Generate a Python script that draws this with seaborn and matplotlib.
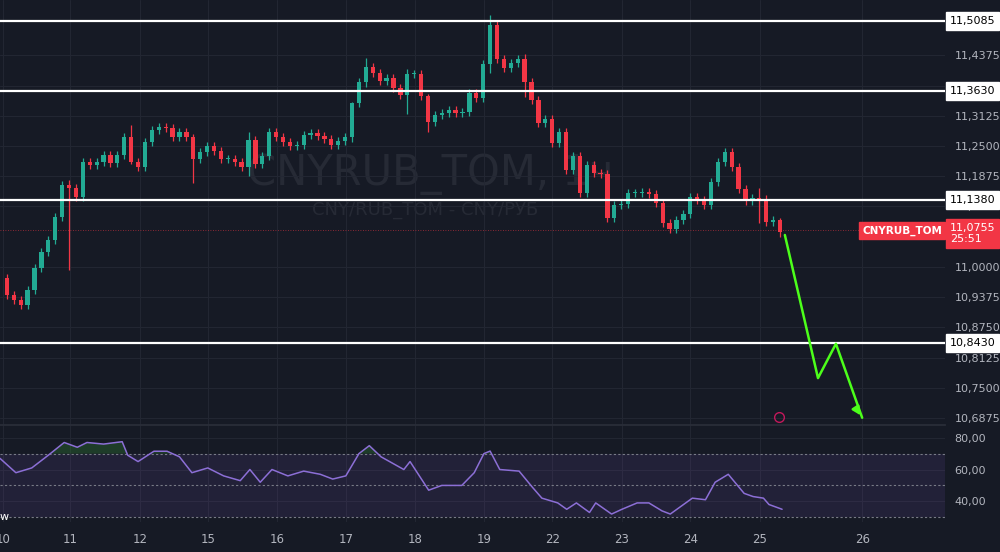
import numpy as np
import pandas as pd
import seaborn as sns
import matplotlib.pyplot as plt

# hourly closes, CNYRUB_TOM
first_open = 10.977
closes = [10.942, 10.932, 10.921, 10.952, 10.998, 11.031, 11.056, 11.103, 11.170, 11.163,
          11.145, 11.217, 11.211, 11.217, 11.232, 11.215, 11.232, 11.269, 11.217, 11.207,
          11.258, 11.283, 11.289, 11.287, 11.269, 11.279, 11.269, 11.223, 11.238, 11.250,
          11.240, 11.223, 11.223, 11.217, 11.207, 11.263, 11.213, 11.229, 11.279, 11.269,
          11.258, 11.250, 11.252, 11.273, 11.277, 11.271, 11.265, 11.252, 11.260, 11.269,
          11.339, 11.382, 11.413, 11.401, 11.385, 11.391, 11.370, 11.356, 11.399, 11.399,
          11.353, 11.300, 11.314, 11.318, 11.325, 11.318, 11.320, 11.360, 11.349, 11.420,
          11.500, 11.430, 11.411, 11.422, 11.430, 11.382, 11.345, 11.298, 11.306, 11.256,
          11.279, 11.200, 11.229, 11.153, 11.211, 11.194, 11.192, 11.101, 11.128, 11.130,
          11.153, 11.153, 11.155, 11.151, 11.132, 11.091, 11.079, 11.097, 11.110, 11.145,
          11.139, 11.128, 11.176, 11.217, 11.238, 11.207, 11.161, 11.136, 11.143, 11.140,
          11.093, 11.097, 11.072]
# bigger wicks where visible: index -> (upper, lower)
wick_override = {9: (0.01, 0.17), 18: (0.025, 0.005), 27: (0.005, 0.05), 35: (0.015, 0.02),
                 50: (0.003, 0.01), 52: (0.02, 0.01), 58: (0.01, 0.04), 61: (0.005, 0.02),
                 70: (0.02, 0.02), 75: (0.01, 0.03), 109: (0.02, 0.05), 112: (0.005, 0.01)}

levels = [11.5085, 11.3630, 11.1380, 10.8430]
last_price = 11.0755

rsi_idx = [-1, 1.3, 3.6, 6, 8.3, 10.2, 11.6, 14, 16.7, 17.5, 19, 21.3, 23.2, 25, 26.8, 29.1,
           31.4, 33.8, 35.2, 36.7, 38.4, 40.7, 43, 45.4, 47.2, 49.1, 51, 52.5, 54.2, 57.5, 58.4,
           61.1, 63, 65.9, 67.7, 69.1, 70, 71.4, 74.2, 76.1, 77.5, 79.8, 81.1, 82.5, 84.4, 85.3,
           87.6, 89.1, 91.3, 93, 94.9, 96.1, 99.3, 101.2, 102.6, 104.5, 106.8, 108.1, 109.6,
           110.4, 112.3]
rsi_val = [67, 58, 61, 69, 77, 74, 77, 76, 77.5, 69, 65, 71.5, 71.5, 68, 58, 61, 56, 53, 60,
           52, 60, 56, 59, 57, 54, 56, 70, 75, 68, 60, 65, 47, 50, 50, 58, 70, 71.6, 60, 59,
           49, 42, 39, 35, 39, 33, 39, 32, 35, 39, 39, 34, 32, 42, 41, 52, 57, 45, 43, 42, 38, 35]

arrow_x = [112.7, 117.5, 120.1, 123.9]
arrow_y = [11.066, 10.770, 10.841, 10.688]

day_pos = [-0.5, 9.1, 19.3, 29.1, 39.1, 49.1, 59.1, 69.1, 79.0, 89.1, 99.0, 109.1, 123.9]
day_lab = ["10", "11", "12", "15", "16", "17", "18", "19", "22", "23", "24", "25", "26"]
price_ticks = [11.4375, 11.3750, 11.3125, 11.2500, 11.1875, 11.1250, 11.0000,
               10.9375, 10.8750, 10.8125, 10.7500, 10.6875]

bg = "#161a25"
up_c, dn_c = "#22ab94", "#f23645"
sns.set_theme(style="dark", rc={"axes.facecolor": bg, "figure.facecolor": bg})
plt.rcParams["font.family"] = ["DejaVu Sans"]

opens = [first_open] + closes[:-1]
df = pd.DataFrame({"i": np.arange(len(closes)), "open": opens, "close": closes})
df["up"] = df["close"] >= df["open"]
df["top"] = df[["open", "close"]].max(axis=1)
df["bot"] = df[["open", "close"]].min(axis=1)
df["high"] = df["top"] + 0.008
df["low"] = df["bot"] - 0.008
for k, (u, l) in wick_override.items():
    df.loc[k, "high"] = df.loc[k, "top"] + u
    df.loc[k, "low"] = df.loc[k, "bot"] - l

fig = plt.figure(figsize=(10, 5.52), dpi=100)
ax = fig.add_axes([0, 127 / 552, 0.945, 425 / 552])
ax2 = fig.add_axes([0, 30 / 552, 0.945, 97 / 552], sharex=ax)
xlim = (-1.0, 135.9)

for a in (ax, ax2):
    a.set_facecolor(bg)
    for s in a.spines.values():
        s.set_visible(False)
    a.grid(True, color="#232733", lw=0.7)
    a.set_axisbelow(True)
ax2.spines["top"].set_visible(True)
ax2.spines["top"].set_color("#2a2e39")

# watermark
ax.text(0.455, 0.59, "CNYRUB_TOM, 1ч", transform=ax.transAxes, ha="center", va="center",
        fontsize=30, color="#262a35", zorder=0)
ax.text(0.45, 0.505, "CNY/RUB_TOM - CNY/РУБ", transform=ax.transAxes, ha="center",
        va="center", fontsize=13, color="#262a35", zorder=0)

colors = np.where(df["up"], up_c, dn_c)
ax.vlines(df["i"], df["low"], df["high"], colors=colors, lw=0.9, zorder=2)
ax.bar(df["i"], (df["top"] - df["bot"]).clip(lower=0.0015), bottom=df["bot"], width=0.62,
       color=colors, edgecolor=colors, linewidth=0, zorder=3)

for lv in levels:
    ax.axhline(lv, color="white", lw=1.6, zorder=4)
ax.axhline(last_price, color=dn_c, lw=0.6, ls=(0, (1, 2)), alpha=0.7, zorder=1)
ax.plot(arrow_x, arrow_y, color="#4cff1a", lw=1.8, zorder=5)
ax.annotate("", xy=(arrow_x[-1], arrow_y[-1]), xytext=(arrow_x[-1] - 0.9, arrow_y[-1] + 0.02),
            arrowprops=dict(arrowstyle="-|>", color="#4cff1a", lw=1.8, mutation_scale=12), zorder=5)
ax.plot([111.9], [10.6905], marker="o", ms=7, mfc="none", mec="#c2185b", mew=1)

ax.set_xlim(*xlim)
ax.set_ylim(10.673, 11.552)
ax.yaxis.tick_right()
ax.set_yticks(price_ticks)
ax.set_yticklabels([f"{t:.4f}".replace(".", ",") for t in price_ticks], fontsize=8,
                   color="#b2b5be")
ax.tick_params(axis="y", length=0, pad=7)
ax.tick_params(axis="x", labelbottom=False, length=0)

for lv in levels:
    ax.text(1.005, lv, f"{lv:.4f}".replace(".", ","), transform=ax.get_yaxis_transform(),
            ha="left", va="center", fontsize=8, color="black", zorder=6, clip_on=False,
            bbox=dict(boxstyle="square,pad=0.35", fc="white", ec="white"))
ax.text(1.005, last_price - 0.006, "11,0755\n25:51", transform=ax.get_yaxis_transform(),
        ha="left", va="center", fontsize=8, color="white", clip_on=False, linespacing=1.1,
        bbox=dict(boxstyle="square,pad=0.35", fc=dn_c, ec=dn_c), zorder=6)
ax.text(0.997, last_price, "CNYRUB_TOM", transform=ax.get_yaxis_transform(), ha="right",
        va="center", fontsize=7.5, color="white", fontweight="bold", zorder=6,
        bbox=dict(boxstyle="square,pad=0.3", fc=dn_c, ec=dn_c))

# RSI panel
rsi = pd.DataFrame({"i": rsi_idx, "rsi": rsi_val})
ax2.axhspan(30, 70, color="#7e57c2", alpha=0.12, lw=0)
for h in (70, 50, 30):
    ax2.axhline(h, color="#787b86", lw=0.8, ls=(0, (2, 2)))
ax2.fill_between(rsi["i"], 70, rsi["rsi"], where=rsi["rsi"] > 70, interpolate=True,
                 color="#2e7d32", alpha=0.35, lw=0)
sns.lineplot(data=rsi, x="i", y="rsi", ax=ax2, color="#8c6fd6", lw=1.1)
ax2.set_ylim(27, 88)
ax2.yaxis.tick_right()
ax2.set_yticks([80, 60, 40])
ax2.set_yticklabels(["80,00", "60,00", "40,00"], fontsize=8, color="#b2b5be")
ax2.tick_params(axis="y", length=0, pad=7)
ax2.set_xlabel("")
ax2.set_ylabel("")
ax2.set_xticks(day_pos)
ax2.set_xticklabels(day_lab, fontsize=8.5, color="#b2b5be")
ax2.tick_params(axis="x", length=0, pad=8)
ax2.set_xlim(*xlim)
ax2.text(0.0, 30, "w", ha="left", va="center", fontsize=8, color="white",
         transform=ax2.get_yaxis_transform())

fig.savefig("out.png", dpi=100, facecolor=bg)
